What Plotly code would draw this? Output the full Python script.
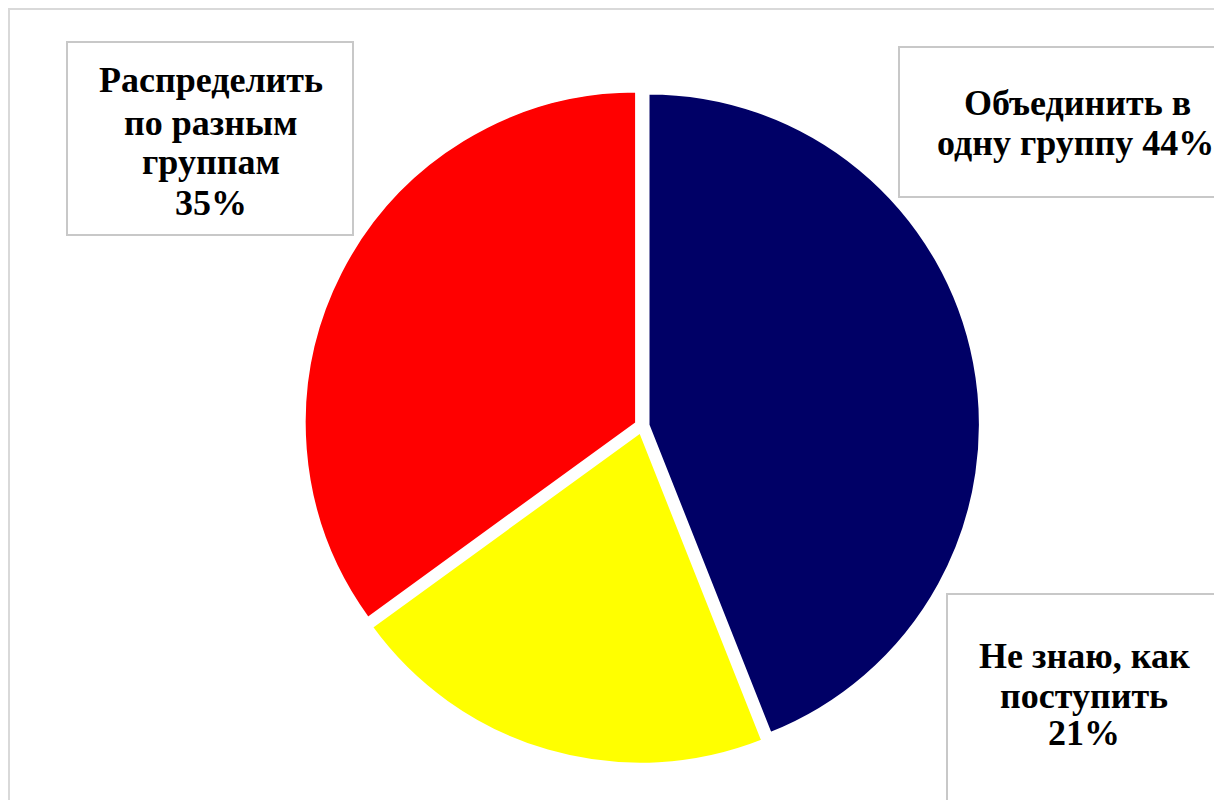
import plotly.graph_objects as go

labels = ["Объединить в одну группу", "Не знаю, как поступить", "Распределить по разным группам"]
values = [44, 21, 35]
colors = ["#000066", "#FFFF00", "#FF0000"]
label_lines = [
    ["Объединить в", "одну группу {v}%"],
    ["Не знаю, как", "поступить", "{v}%"],
    ["Распределить", "по разным", "группам", "{v}%"],
]

W, H = 1222, 800
OFF = 8  # page body margin

def px(x):
    return (x - OFF) / W

def py(y):
    return 1 - (y - OFF) / H

fig = go.Figure()
fig.add_trace(go.Pie(
    labels=labels,
    values=values,
    marker=dict(colors=colors, line=dict(color="white", width=2)),
    sort=False,
    direction="clockwise",
    rotation=0,
    pull=[0.02, 0.02, 0.02],
    textinfo="none",
    hoverinfo="label+percent",
    showlegend=False,
    domain=dict(x=[px(642 - 338), px(642 + 338)], y=[py(426 + 338), py(426 - 338)]),
))

# label boxes (x0, y0, x1, y1) in pixels, text centre x, line centre ys
boxes = [
    (899, 47, 1240, 197, [1077, 1075], [103, 143]),
    (947, 594, 1215, 830, [1084, 1084, 1084], [656, 696, 733]),
    (67, 42, 353, 235, [211, 211, 211, 211], [80, 123, 162, 203]),
]

shapes = [dict(type="rect", xref="paper", yref="paper",
               x0=px(9), y0=py(840), x1=px(1250), y1=py(9),
               line=dict(color="#d9d9d9", width=2), fillcolor="rgba(0,0,0,0)", layer="below")]
annotations = []
for (x0, y0, x1, y1, cxs, cys), lines, v in zip(boxes, label_lines, values):
    shapes.append(dict(type="rect", xref="paper", yref="paper",
                       x0=px(x0), y0=py(y1), x1=px(x1), y1=py(y0),
                       line=dict(color="#c8c8c8", width=2), fillcolor="white"))
    for line, cx, cy in zip(lines, cxs, cys):
        annotations.append(dict(x=px(cx), y=py(cy), xref="paper", yref="paper",
                                text="<b>" + line.format(v=v) + "</b>", showarrow=False,
                                xanchor="center", yanchor="middle", align="center",
                                font=dict(family="Liberation Serif, Times New Roman, serif",
                                          size=36, color="black")))

fig.update_layout(
    width=W, height=H,
    margin=dict(l=0, r=0, t=0, b=0),
    paper_bgcolor="white",
    plot_bgcolor="white",
    shapes=shapes,
    annotations=annotations,
)

fig.write_html("out.html")
